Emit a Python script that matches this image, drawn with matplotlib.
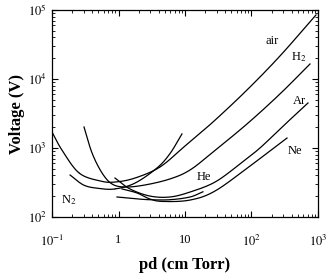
import numpy as np
import matplotlib
matplotlib.use('Agg')
import matplotlib.pyplot as plt
from matplotlib.ticker import LogLocator, FixedLocator, FixedFormatter

plt.rcParams['font.family'] = ['Liberation Serif', 'DejaVu Serif']
plt.rcParams['mathtext.fontset'] = 'stix'

# Paschen curves: pd (cm Torr) and breakdown voltage (V)
air_pd = [0.1, 0.141, 0.255, 0.527, 0.886, 1.77, 4.21, 10.0, 26.4, 85.6, 268, 933]
air_v = [1706, 935, 435, 333, 321, 367, 531, 1069, 2384, 6930, 21540, 84700]

h2_pd = [0.303, 0.400, 0.565, 0.799, 1.25, 2.50, 5.95, 11.9, 26.4, 85.6, 268, 758]
h2_v = [2015, 847, 435, 301, 272, 291, 356, 480, 875, 2230, 6070, 16500]

n2_pd = [0.187, 0.30, 0.50, 0.886, 1.77, 3.79, 5.95, 9.0]
n2_v = [406, 290, 260, 255, 310, 513, 830, 1600]

ar_pd = [0.886, 1.489, 2.977, 5.95, 11.9, 28.3, 67.1, 134, 268, 707]
ar_v = [367, 255, 201, 195, 230, 321, 586, 1000, 1884, 4490]

ne_pd = [1.129, 1.897, 2.977, 4.67, 11.9, 28.3, 94.9, 342]
ne_v = [255, 223, 182, 168, 176, 238, 548, 1395]

he_pd = [0.949, 1.771, 2.977, 5.95, 11.9, 18.6]
he_v = [195, 184, 178, 178, 195, 232]

labels = ['air', 'H$_2$', 'Ar', 'Ne', 'He', 'N$_2$']
label_pd = [203, 518, 535, 451, 19.3, 0.180]
label_v = [35600, 20800, 4800, 906, 380, 176]

xticks = [0.1, 1, 10, 100, 1000]
xticklabels = ['$10^{-1}$', '1', '10', '$10^2$', '$10^3$']
yticks = [100, 1000, 10000, 100000]
yticklabels = ['$10^2$', '$10^3$', '$10^4$', '$10^5$']


def spline(pd, v, n=30):
    # Catmull-Rom through the read points, in log-log space
    p = np.column_stack([np.log10(pd), np.log10(v)])
    p = np.vstack([2 * p[0] - p[1], p, 2 * p[-1] - p[-2]])
    t = np.linspace(0, 1, n)[:, None]
    out = []
    for i in range(1, len(p) - 2):
        p0, p1, p2, p3 = p[i - 1], p[i], p[i + 1], p[i + 2]
        seg = 0.5 * ((2 * p1) + (-p0 + p2) * t
                     + (2 * p0 - 5 * p1 + 4 * p2 - p3) * t ** 2
                     + (-p0 + 3 * p1 - 3 * p2 + p3) * t ** 3)
        out.append(seg)
    out = np.vstack(out)
    return 10 ** out[:, 0], 10 ** out[:, 1]


fig = plt.figure(figsize=(3.30, 2.77), dpi=100)
ax = fig.add_axes([0.1576, 0.2166, 0.806, 0.7473])

for pd, v in [(air_pd, air_v), (h2_pd, h2_v), (n2_pd, n2_v),
              (ar_pd, ar_v), (ne_pd, ne_v), (he_pd, he_v)]:
    x, y = spline(pd, v)
    ax.plot(x, y, color='black', lw=0.9)

for lab, px, py in zip(labels, label_pd, label_v):
    ax.text(px, py, lab, fontsize=9, ha='center', va='center')

ax.set_xscale('log')
ax.set_yscale('log')
ax.set_xlim(0.1, 1000)
ax.set_ylim(100, 100000)

ax.xaxis.set_major_locator(FixedLocator(xticks))
ax.xaxis.set_major_formatter(FixedFormatter(xticklabels))
ax.yaxis.set_major_locator(FixedLocator(yticks))
ax.yaxis.set_major_formatter(FixedFormatter(yticklabels))
ax.xaxis.set_minor_locator(LogLocator(base=10, subs=np.arange(2, 10)))
ax.yaxis.set_minor_locator(LogLocator(base=10, subs=np.arange(2, 10)))
ax.xaxis.set_minor_formatter(plt.NullFormatter())
ax.yaxis.set_minor_formatter(plt.NullFormatter())

ax.tick_params(which='both', direction='in', top=True, right=True, labelsize=9)
ax.tick_params(which='major', length=4, width=0.8)
ax.tick_params(which='minor', length=2, width=0.6)
ax.tick_params(axis='x', pad=12)
ax.tick_params(axis='y', pad=4)
for s in ax.spines.values():
    s.set_linewidth(0.9)

ax.set_xlabel('pd (cm Torr)', fontsize=12, fontweight='bold', labelpad=6)
ax.set_ylabel('Voltage (V)', fontsize=12, fontweight='bold', labelpad=2)

fig.savefig('out.png', dpi=100)
